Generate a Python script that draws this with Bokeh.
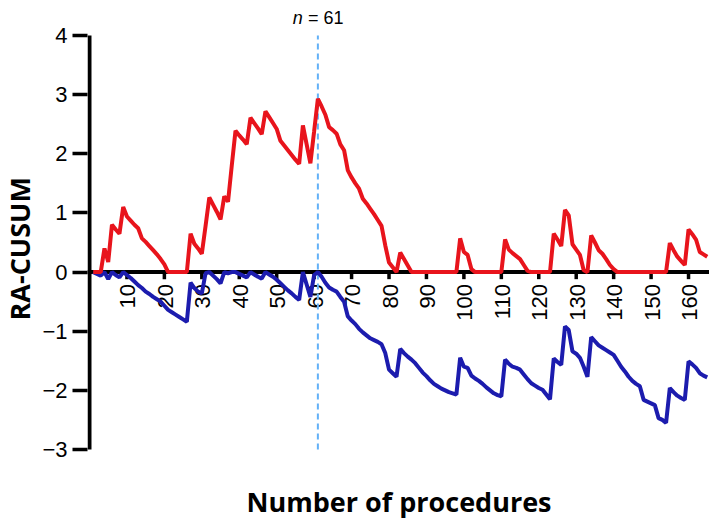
import math
from bokeh.plotting import figure
from bokeh.models import Range1d, FixedTicker, Span, Title
from bokeh.embed import file_html
from bokeh.resources import INLINE
from bokeh.core.properties import value

# ---------------- data ----------------
procedures = list(range(1, 166))

upper_cusum = [
    0, 0, 0, 0.40, 0.17, 0.80, 0.72, 0.65, 1.10, 0.94,
    0.87, 0.80, 0.74, 0.57, 0.51, 0.44, 0.37, 0.30, 0.22, 0.13,
    0, 0, 0, 0, 0, 0, 0.65, 0.48, 0.40, 0.31,
    0.78, 1.26, 1.14, 1.02, 0.89, 1.28, 1.19, 1.80, 2.39, 2.31,
    2.24, 2.16, 2.61, 2.52, 2.43, 2.33, 2.72, 2.62, 2.52, 2.42,
    2.22, 2.14, 2.06, 1.98, 1.90, 1.83, 2.48, 2.16, 1.84, 2.38,
    2.93, 2.80, 2.66, 2.45, 2.40, 2.34, 2.16, 2.06, 1.72, 1.60,
    1.50, 1.41, 1.24, 1.16, 1.07, 0.98, 0.88, 0.78, 0.45, 0.16,
    0.08, 0, 0.33, 0.22, 0.11, 0, 0, 0, 0, 0,
    0, 0, 0, 0, 0, 0, 0, 0, 0.57, 0.34,
    0.29, 0.05, 0, 0, 0, 0, 0, 0, 0, 0,
    0.55, 0.38, 0.32, 0.27, 0.22, 0.12, 0.02, 0, 0, 0,
    0, 0, 0, 0.65, 0.55, 0.44, 1.05, 0.96, 0.47, 0.38,
    0.29, 0.03, 0, 0.62, 0.50, 0.37, 0.31, 0.22, 0.12, 0.05,
    0, 0, 0, 0, 0, 0, 0, 0, 0, 0,
    0, 0, 0, 0, 0.49, 0.37, 0.26, 0.19, 0.12, 0.72,
    0.64, 0.55, 0.34, 0.30, 0.26,
]

lower_cusum = [
    0, -0.03, -0.06, 0, -0.12, 0, -0.05, -0.09, 0, -0.05,
    -0.10, -0.16, -0.22, -0.27, -0.33, -0.37, -0.42, -0.46, -0.50, -0.57,
    -0.64, -0.68, -0.72, -0.76, -0.80, -0.84, -0.18, -0.27, -0.33, -0.36,
    -0.02, 0, -0.06, -0.12, -0.19, 0, -0.02, 0, 0, -0.03,
    -0.06, -0.09, 0, -0.04, -0.08, -0.11, 0, -0.04, -0.08, -0.13,
    -0.19, -0.25, -0.31, -0.36, -0.42, -0.47, 0, -0.21, -0.42, -0.05,
    0, -0.08, -0.18, -0.26, -0.30, -0.33, -0.42, -0.50, -0.75, -0.82,
    -0.88, -0.96, -1.02, -1.07, -1.12, -1.15, -1.18, -1.22, -1.37, -1.65,
    -1.71, -1.77, -1.30, -1.37, -1.43, -1.48, -1.54, -1.62, -1.70, -1.76,
    -1.83, -1.89, -1.93, -1.97, -2.00, -2.03, -2.05, -2.07, -1.45, -1.60,
    -1.62, -1.75, -1.80, -1.84, -1.89, -1.95, -2.00, -2.05, -2.08, -2.10,
    -1.48, -1.55, -1.60, -1.62, -1.65, -1.73, -1.81, -1.88, -1.92, -1.96,
    -1.99, -2.07, -2.15, -1.46, -1.52, -1.57, -0.92, -0.98, -1.34, -1.38,
    -1.45, -1.60, -1.77, -1.10, -1.17, -1.24, -1.28, -1.32, -1.36, -1.40,
    -1.50, -1.60, -1.68, -1.77, -1.84, -1.89, -1.93, -2.16, -2.19, -2.22,
    -2.25, -2.47, -2.50, -2.55, -1.96, -2.03, -2.09, -2.13, -2.16, -1.51,
    -1.56, -1.62, -1.71, -1.75, -1.78,
]

x_ticks = [10, 20, 30, 40, 50, 60, 70, 80, 90, 100, 110, 120, 130, 140, 150, 160]
x_tick_labels = [str(t) for t in x_ticks]
y_ticks = [-3, -2, -1, 0, 1, 2, 3, 4]
y_tick_labels = ["\u22123", "\u22122", "\u22121", "0", "1", "2", "3", "4"]
y_min, y_max = -3, 4
change_point = 61
change_label_n = "n"
change_label_rest = "= 61"
x_title = "Number of procedures"
y_title = "RA-CUSUM"

RED = "#e8141c"
BLUE = "#1c1cae"
DASH = "#63b1f7"

# ---------------- figure ----------------
# frame: x 86..709 px, y 0..520 px ; 3.75 px per procedure, 59.143 px per unit
p = figure(width=709, height=520,
           x_range=Range1d(-0.533, 165.6), y_range=Range1d(-4.2005, 4.5918),
           output_backend="svg", toolbar_location=None,
           x_axis_location=None, y_axis_location="left",
           min_border_left=86, min_border_right=0,
           min_border_top=0, min_border_bottom=0)
p.grid.visible = False
p.outline_line_color = None
p.background_fill_color = "white"
p.border_fill_color = "white"

ya = p.yaxis[0]
ya.ticker = FixedTicker(ticks=y_ticks)
ya.major_label_overrides = {t: lab for t, lab in zip(y_ticks, y_tick_labels)}
ya.axis_line_color = None
ya.major_tick_line_width = 3.5
ya.major_tick_line_color = "black"
ya.major_tick_out = 15
ya.major_tick_in = 0
ya.minor_tick_line_color = None
ya.major_label_text_font = "Liberation Sans"
ya.major_label_text_font_size = "22px"
ya.major_label_text_color = "black"
ya.major_label_standoff = 5

p.add_layout(Title(text=y_title, align="left", offset=200,
                   vertical_align="top", standoff=0,
                   text_font="Open Sans", text_font_style="bold",
                   text_font_size="27px", text_color="black"), "left")

# vertical axis line (from -3 to 4)
p.segment(x0=0, y0=y_min, x1=0, y1=y_max, line_color="black", line_width=4)

# horizontal axis drawn at y = 0
p.add_layout(Span(location=0, dimension="width", line_color="black",
                  line_width=4, level="underlay"))
p.segment(x0=x_ticks, y0=0, x1=x_ticks, y1=-0.12,
          line_color="black", line_width=3.5)
p.text(x=x_ticks, y=0, text=x_tick_labels, angle=math.pi / 2,
       text_align="right", text_baseline="middle",
       x_offset=1, y_offset=12,
       text_font=value("Liberation Sans"), text_font_size="22px",
       text_color="black")

# change point line
p.segment(x0=change_point, y0=y_min, x1=change_point, y1=y_max,
          line_color=DASH, line_width=2, line_dash="6 4")

# CUSUM lines
p.line(procedures, lower_cusum, line_color=BLUE, line_width=4)
p.line(procedures, upper_cusum, line_color=RED, line_width=4)

# texts
p.text(x=[change_point], y=[4.30], text=[change_label_n], x_offset=-15,
       text_font=value("Liberation Sans"), text_font_style="italic",
       text_font_size="18px", text_align="right",
       text_baseline="alphabetic", text_color="black")
p.text(x=[change_point], y=[4.30], text=[change_label_rest], x_offset=-10,
       text_font=value("Liberation Sans"), text_font_size="18px",
       text_align="left", text_baseline="alphabetic", text_color="black")
p.text(x=[82.67], y=[-3.88], text=[x_title],
       text_font=value("Open Sans"), text_font_style="bold",
       text_font_size="27px", text_align="center",
       text_baseline="alphabetic", text_color="black")

open("out.html", "w").write(file_html(p, INLINE))
